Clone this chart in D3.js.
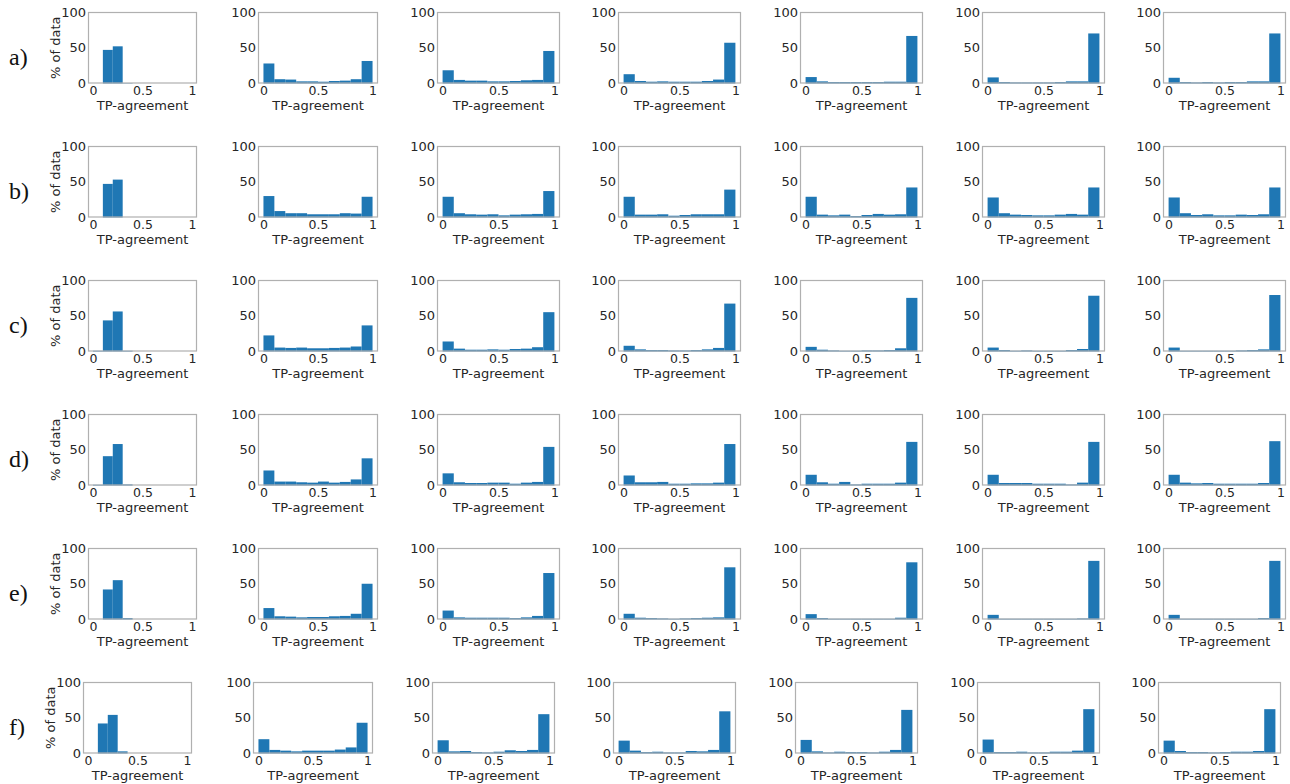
<!DOCTYPE html>
<html>
<head>
<meta charset="utf-8">
<script src="https://cdn.jsdelivr.net/npm/d3@7"></script>
<style>
  html, body { margin: 0; padding: 0; background: #fff; }
  svg { display: block; }
</style>
</head>
<body>
<svg id="chart" width="1290" height="784"></svg>
<script>
// ---------------- DATA ----------------
const rowLabels = ["a)", "b)", "c)", "d)", "e)", "f)"];
const binEdges = [0, 0.1, 0.2, 0.3, 0.4, 0.5, 0.6, 0.7, 0.8, 0.9, 1.0];
const xTicks = [0, 0.5, 1];
const xTickLabels = ["0", "0.5", "1"];
const yTicks = [0, 50, 100];
const xLabel = "TP-agreement";
const yLabel = "% of data";

// each row: 7 histograms, each with 10 bin heights (% of data)
const rowA = [
  [0, 47, 52, 0.5, 0, 0, 0, 0, 0, 0],
  [28, 6, 5.5, 3, 3, 2.5, 3.5, 4, 6, 31.5],
  [18.5, 5, 4, 4, 3, 3, 3.5, 4.5, 5, 45.5],
  [13, 3.5, 2.5, 3, 2.5, 2.5, 2.5, 3.5, 5.5, 57],
  [9, 3, 2, 2, 2, 2, 2, 2.5, 2.5, 66.5],
  [8.5, 2, 1.5, 1.5, 1.5, 1.5, 2, 3, 3, 70],
  [8, 2, 1.5, 2, 1.5, 2, 2, 3, 3, 70]
];
const rowB = [
  [0, 47, 53, 0, 0, 0, 0, 0, 0, 0],
  [30, 9, 6, 6, 4.5, 4.5, 4.5, 6, 5.5, 29],
  [29, 6, 4.5, 4, 4.5, 3, 4, 4.5, 5, 37],
  [29, 4, 4, 4.5, 2.5, 3.5, 4.5, 4.5, 4.5, 39],
  [29, 4, 3, 4, 2, 3.5, 5, 4, 4.5, 42],
  [28, 6, 4, 3.5, 3, 3, 4, 5, 4, 42],
  [28, 6, 3.5, 4.5, 3, 3, 4, 3.5, 4.5, 42]
];
const rowC = [
  [1, 43.5, 56, 1, 0, 0, 0, 0, 0, 0],
  [22.5, 5.5, 5, 5.5, 4.5, 4.5, 5, 5.5, 7, 36.5],
  [14, 4, 2.5, 2.5, 3, 2.5, 3.5, 4, 6, 55],
  [8, 3, 2, 2, 1.5, 1.5, 2, 3, 5, 67],
  [6.5, 2.5, 1.5, 1, 1, 1.5, 1.5, 2, 4.5, 75],
  [5.5, 2, 1, 1.5, 1, 1, 1, 2, 3.5, 78],
  [5.5, 1, 1, 1, 1, 1, 1.5, 2, 3, 79]
];
const rowD = [
  [1, 41, 58, 1.5, 0, 0, 0, 0, 0, 0],
  [21, 5.5, 5.5, 4.5, 4, 5.5, 4, 5, 8.5, 38],
  [17, 4.5, 3.5, 3.5, 4, 4, 2.5, 4, 5, 54],
  [14, 4.5, 4.5, 5, 2.5, 2.5, 3, 3, 4, 58],
  [15, 4.5, 2.5, 5, 1.5, 2.5, 2.5, 2.5, 4, 61],
  [15, 3.5, 3.5, 3.5, 2.5, 2.5, 2.5, 1.5, 4, 61],
  [15, 4, 3, 3.5, 2.5, 2.5, 2.5, 2.5, 3.5, 62]
];
const rowE = [
  [0, 42, 55, 2, 0, 0, 0, 0, 0, 0],
  [16, 4.5, 4, 3, 3.5, 3.5, 4.5, 5, 8, 50],
  [12.5, 3, 2.5, 2.5, 2.5, 2.5, 2, 3, 5, 65],
  [8, 2.5, 2, 1.5, 1, 1.5, 2, 2.5, 3, 73],
  [7.5, 2, 1, 1, 1, 1, 1, 1, 2.5, 80],
  [6.5, 1, 1, 1, 1, 1, 1, 1, 1.5, 82],
  [6.5, 1, 1, 1, 1, 1, 1, 1, 2, 82]
];
const rowF = [
  [0, 42, 54, 3, 0, 0, 0, 0, 0, 0],
  [20, 5, 4, 3, 4, 4, 4, 5.5, 8.5, 43],
  [18.5, 3, 3.5, 2, 1.5, 2.5, 4.5, 3.5, 5, 55],
  [18, 4, 2, 2.5, 1.5, 1.5, 3.5, 3, 5, 59],
  [19, 3, 1.5, 2.5, 2, 2, 1.5, 2.5, 5, 61],
  [19.5, 2, 2, 2.5, 1.5, 1.5, 2.5, 2.5, 4, 62],
  [18, 3.5, 2, 2, 1.5, 2, 2.5, 2.5, 3.5, 62]
];
const rows = [rowA, rowB, rowC, rowD, rowE, rowF];

// ---------------- LAYOUT ----------------
const colLeft = [88, 258, 437, 618, 800, 982, 1163];
const colWidth = [109, 120, 123, 123, 123, 123, 123];
const rowTop = [12, 146, 280, 414, 548, 682];
const rowShift = [0, 0, 0, 0, 0, -5];
const panelH = 71.5;

const barColor = "#1f77b4";
const frameColor = "#b0b0b0";
const textColor = "#262626";
const sansFont = "'DejaVu Sans', sans-serif";

const svg = d3.select("#chart");

rows.forEach((row, r) => {
  const top = rowTop[r];
  // row label
  svg.append("text")
    .attr("x", 9)
    .attr("y", top + panelH / 2 + 17.5)
    .attr("font-family", "'Liberation Serif', 'Times New Roman', serif")
    .attr("font-size", 24)
    .attr("fill", "#111")
    .text(rowLabels[r]);

  row.forEach((vals, c) => {
    const left = colLeft[c] + rowShift[r];
    const w = colWidth[c];
    const x = d3.scaleLinear().domain([-0.05, 1.05]).range([left, left + w]);
    const y = d3.scaleLinear().domain([0, 100]).range([top + panelH, top]);
    const g = svg.append("g");

    // bars
    g.selectAll("rect.bar")
      .data(vals.map((v, i) => ({ x0: binEdges[i], x1: binEdges[i + 1], v })))
      .join("rect")
      .attr("class", "bar")
      .attr("x", d => x(d.x0))
      .attr("width", d => x(d.x1) - x(d.x0))
      .attr("y", d => y(d.v))
      .attr("height", d => y(0) - y(d.v))
      .attr("fill", barColor);

    // frame
    g.append("rect")
      .attr("x", left + 0.5)
      .attr("y", top + 0.5)
      .attr("width", w - 1)
      .attr("height", panelH - 1)
      .attr("fill", "none")
      .attr("stroke", frameColor)
      .attr("stroke-width", 1.2);

    // y axis tick labels
    const yAxis = d3.axisLeft(y).tickValues(yTicks).tickSize(0).tickPadding(2);
    const ya = g.append("g").attr("transform", `translate(${left},0)`).call(yAxis);
    ya.select(".domain").remove();
    ya.selectAll("text")
      .attr("font-family", sansFont)
      .attr("font-size", 13)
      .attr("fill", textColor);

    // x axis tick labels
    const xAxis = d3.axisBottom(x).tickValues(xTicks)
      .tickFormat((d, i) => xTickLabels[i]).tickSize(0).tickPadding(3);
    const xa = g.append("g").attr("transform", `translate(0,${top + panelH})`).call(xAxis);
    xa.select(".domain").remove();
    xa.selectAll("text")
      .attr("font-family", sansFont)
      .attr("font-size", 12.5)
      .attr("fill", textColor);

    // x label
    g.append("text")
      .attr("x", left + w / 2)
      .attr("y", top + panelH + 26.5)
      .attr("text-anchor", "middle")
      .attr("font-family", sansFont)
      .attr("font-size", 13)
      .attr("fill", textColor)
      .text(xLabel);

    // y label (first column only)
    if (c === 0) {
      const cx = left - 33, cy = top + panelH / 2;
      g.append("text")
        .attr("transform", `translate(${cx},${cy}) rotate(-90)`)
        .attr("text-anchor", "middle")
        .attr("dy", "0.35em")
        .attr("font-family", sansFont)
        .attr("font-size", 13)
        .attr("fill", textColor)
        .text(yLabel);
    }
  });
});
</script>
</body>
</html>
